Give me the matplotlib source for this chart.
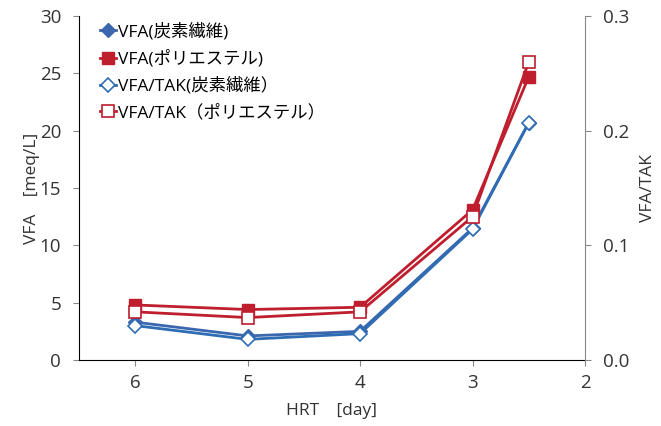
import matplotlib
matplotlib.use("Agg")
import matplotlib.pyplot as plt

plt.rcParams['font.family'] = ['Open Sans', 'Noto Sans CJK JP', 'DejaVu Sans']

# HRT [day]
hrt = [6, 5, 4, 3, 2.5]

# VFA [meq/L]
vfa_carbon = [3.3, 2.1, 2.5, 11.5, 20.7]
vfa_poly = [4.8, 4.4, 4.6, 13.1, 24.7]

# VFA/TAK
ratio_carbon = [0.030, 0.018, 0.023, 0.114, 0.207]
ratio_poly = [0.042, 0.037, 0.042, 0.125, 0.260]

blue = '#2E6DB4'
blue_dark = '#3B67AE'
red = '#BE1E2D'
txt = '#333333'

fig = plt.figure(figsize=(6.61, 4.26), dpi=100)
ax1 = fig.add_axes([79 / 661, 66 / 426, 506 / 661, 344 / 426])
ax2 = ax1.twinx()

l1, = ax1.plot(hrt, vfa_carbon, color=blue_dark, lw=2, marker='D', ms=7,
               mfc=blue_dark, mec=blue_dark, label='VFA(炭素繊維)')
l2, = ax1.plot(hrt, vfa_poly, color=red, lw=2, marker='s', ms=8,
               mfc=red, mec=red, label='VFA(ポリエステル)')
l3, = ax2.plot(hrt, ratio_carbon, color=blue, lw=2, marker='D', ms=7,
               mfc='white', mec=blue, mew=1.2, label='VFA/TAK(炭素繊維）')
l4, = ax2.plot(hrt, ratio_poly, color=red, lw=2, marker='s', ms=8,
               mfc='white', mec=red, mew=1.2, label='VFA/TAK（ポリエステル）')

ax1.set_xlim(6.5, 2)
ax1.set_xticks([6, 5, 4, 3, 2])
ax1.set_ylim(0, 30)
ax1.set_yticks(range(0, 31, 5))
ax2.set_ylim(0, 0.3)
ax2.set_yticks([0.0, 0.1, 0.2, 0.3])
ax2.set_yticklabels(['0.0', '0.1', '0.2', '0.3'])

for ax in (ax1, ax2):
    ax.spines['top'].set_visible(False)
    ax.tick_params(labelsize=13.5, labelcolor=txt, length=4.3, width=0.8,
                   pad=8.5, color='#888888')
ax1.spines['left'].set_color('black')
ax1.spines['bottom'].set_color('black')
ax1.spines['right'].set_visible(False)
ax2.spines['left'].set_visible(False)
ax2.spines['bottom'].set_visible(False)
ax2.spines['right'].set_color('#888888')
ax1.tick_params(axis='x', pad=6)

ax1.set_xlabel('HRT　[day]', fontsize=12.5, color=txt, labelpad=8)
ax1.set_ylabel('VFA　[meq/L]', fontsize=12.5, color=txt, labelpad=0)
ax2.set_ylabel('VFA/TAK', fontsize=12.5, color=txt, labelpad=8)

ax1.legend(handles=[l1, l2, l3, l4], loc='upper left', frameon=False,
           fontsize=12.5, handlelength=0.9, handletextpad=0.15,
           labelspacing=0.55, borderaxespad=0.0, borderpad=0.0,
           bbox_to_anchor=(21 / 506, 1 - 7 / 344))

fig.savefig('out.png', dpi=100)
